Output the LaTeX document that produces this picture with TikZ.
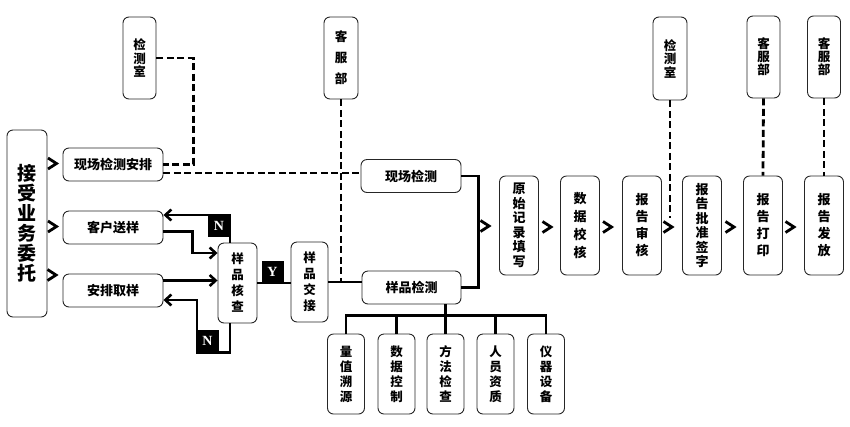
\documentclass[tikz,border=0pt]{standalone}
\usepackage{fontspec}
\newfontfamily\cjk{Noto Sans CJK SC}
\newfontfamily\ynfont{Liberation Serif}
\usetikzlibrary{arrows.meta,calc}
\tikzset{
  box/.style={draw=black!85,line width=0.9bp,rounded corners=6bp,inner sep=0pt,align=center},
  hbox/.style={box,minimum width=100bp,minimum height=33bp,font={\cjk\bfseries\fontsize{13bp}{15bp}\selectfont}},
  vbox/.style={box,minimum width=39bp,minimum height=#1},
  vt/.style 2 args={font={\cjk\bfseries\fontsize{#1bp}{#2bp}\selectfont}},
  conn/.style={line width=2.6bp,draw=black},
  arr/.style={conn,-{Straight Barb[length=6bp,width=11bp]}},
  dline/.style={line width=2.8bp,draw=black,dash pattern=on 7bp off 3.5bp},
  ynbox/.style={fill=black,text=white,minimum width=22bp,minimum height=22bp,inner sep=0pt,font={\ynfont\bfseries\fontsize{14bp}{14bp}\selectfont}},
  chevpic/.pic={\draw[line width=2.8bp,line join=miter,line cap=butt] (-4.5,-5.5) -- (4,0) -- (-4.5,5.5);}
}
\begin{document}
\begin{tikzpicture}[x=1bp,y=-1bp]
\useasboundingbox (0,0) rectangle (850,426);
% left column
\node[box,minimum width=40bp,minimum height=187bp,vt={19}{20}] (entrust) at (27,223.5) {接\\受\\业\\务\\委\\托};
\node[hbox] (xcap) at (113,164.5) {现场检测安排};
\node[hbox] (kh) at (113,227.5) {客户送样};
\node[hbox] (ap) at (113,290.5) {安排取样};
% top department boxes
\node[box,minimum width=33bp,minimum height=82bp,vt={12.5}{13.5}] (jcs1) at (139.5,58) {检\\测\\室};
\node[box,minimum width=34bp,minimum height=82bp,vt={12.5}{21}] (kf1) at (341,58) {客\\服\\部};
\node[box,minimum width=34bp,minimum height=83bp,vt={12.5}{13.5}] (jcs2) at (670,58.5) {检\\测\\室};
\node[box,minimum width=33bp,minimum height=82bp,vt={12.5}{13}] (kf2) at (763.5,57) {客\\服\\部};
\node[box,minimum width=33bp,minimum height=82bp,vt={12.5}{13}] (kf3) at (824,57) {客\\服\\部};
% check / handover
\node[box,minimum width=39bp,minimum height=80bp,vt={12.5}{16}] (hc) at (237.5,283) {样\\品\\核\\查};
\node[box,minimum width=37bp,minimum height=80bp,vt={12.5}{16}] (jj) at (309.5,282) {样\\品\\交\\接};
% tests
\node[hbox] (xc) at (411,176) {现场检测};
\node[hbox,minimum width=99bp] (yp) at (411.5,287.5) {样品检测};
% report chain
\node[vbox=99bp,vt={13}{14.5}] (r1) at (519,225.5) {原\\始\\记\\录\\填\\写};
\node[vbox=99bp,vt={13}{18}] (r2) at (580,225.5) {数\\据\\校\\核};
\node[vbox=99bp,vt={13}{17}] (r3) at (642,225.5) {报\\告\\审\\核};
\node[vbox=99bp,vt={13}{14.5}] (r4) at (702,225.5) {报\\告\\批\\准\\签\\字};
\node[vbox=99bp,vt={13}{17}] (r5) at (763,225.5) {报\\告\\打\\印};
\node[vbox=99bp,vt={13}{17}] (r6) at (824,225.5) {报\\告\\发\\放};
% bottom boxes
\node[box,minimum width=37bp,minimum height=80bp,vt={12.5}{15}] (b1) at (346,374) {量\\值\\溯\\源};
\node[box,minimum width=37bp,minimum height=80bp,vt={12.5}{15}] (b2) at (396.5,374) {数\\据\\控\\制};
\node[box,minimum width=37bp,minimum height=80bp,vt={12.5}{15}] (b3) at (445.5,374) {方\\法\\检\\查};
\node[box,minimum width=37bp,minimum height=80bp,vt={12.5}{15}] (b4) at (495.5,374) {人\\员\\资\\质};
\node[box,minimum width=37bp,minimum height=80bp,vt={12.5}{15}] (b5) at (546,374) {仪\\器\\设\\备};
% Y / N marks
\node[ynbox] (n1) at (219,226) {N};
\node[ynbox] (n2) at (207.5,341) {N};
\node[ynbox] (ybx) at (272.5,271.5) {Y};
% dashed connectors
\draw[dline] (jcs1.east) -| ([xshift=30bp]xcap.east) -- (xcap.east);
\draw[dline] ([yshift=-8.5bp]xcap.east) coordinate (d1) -- (d1 -| xc.west);
\draw[dline] (kf1.south) -- (kf1.south |- jj.east);
\draw[dline] (jcs2.south) -- ++(0,118);
\draw[dline] (kf2.south) -- (r5.north);
\draw[dline] (kf3.south) -- (r6.north);
% solid connectors
\draw[arr] ([yshift=-4bp]kh.east) -- ++(29,0) |- ([yshift=30bp]hc.west);
\draw[arr] ([yshift=10bp]ap.east) -- ([yshift=10bp]ap.east -| hc.west);
\draw[arr] ([xshift=-7.5bp]hc.north) |- ([yshift=12.5bp]kh.east);
\draw[arr] ([xshift=-7.5bp]hc.south) -- ++(0,29) -- ++(-33,0) |- ([yshift=-9.5bp]ap.east);
\draw[conn] (hc.east) -- (hc.east -| jj.west);
\draw[conn] (jj.east) -- (jj.east -| yp.west);
\draw[conn] (xc.east) -| ([xshift=17bp]yp.east) -- (yp.east);
\draw[conn] (b3.north |- yp.south) -- (b3.north);
\draw[conn] (b1.north) -- ++(0,-18) coordinate (bus) -| (b5.north);
\draw[conn] (b2.north) -- (b2.north |- bus);
\draw[conn] (b4.north) -- (b4.north |- bus);
% chevrons
\pic at (52.5,163.5) {chevpic};
\pic at (52.5,226.5) {chevpic};
\pic at (52,275) {chevpic};
\pic at (485,226) {chevpic};
\pic at (547,227) {chevpic};
\pic at (607.5,227) {chevpic};
\pic at (668,227) {chevpic};
\pic at (730,227) {chevpic};
\pic at (790,227) {chevpic};
\end{tikzpicture}
\end{document}
